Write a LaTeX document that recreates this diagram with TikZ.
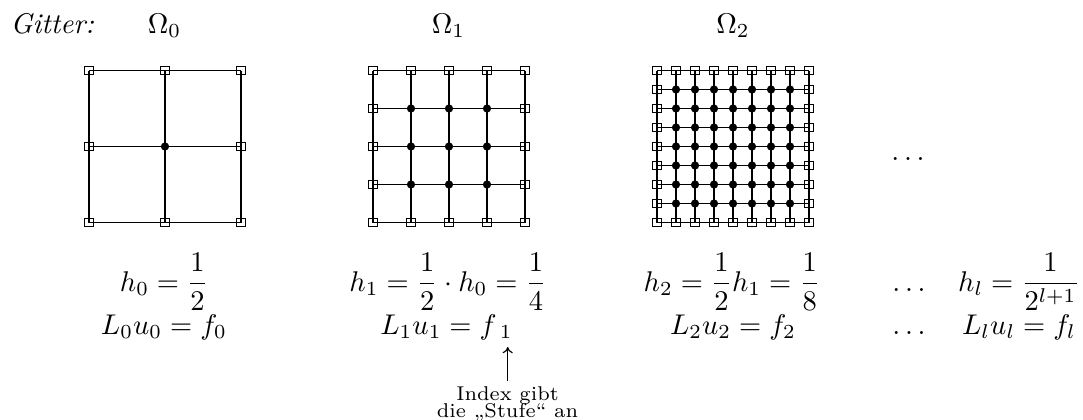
\documentclass[tikz,border=0pt]{standalone}
\usepackage{amsmath}
\usetikzlibrary{arrows.meta}
\tikzset{
  bnd/.style={draw, rectangle, minimum size=3pt, inner sep=0pt, line width=0.4pt},
  inn/.style={fill, circle, minimum size=2.9pt, inner sep=0pt},
  gline/.style={line width=0.4pt},
  lbl/.style={anchor=base, inner sep=0pt},
  note/.style={font=\scriptsize, anchor=base, inner sep=0pt},
  pointer/.style={line width=0.4pt, -{To[length=2.2pt,width=3.6pt]}}
}
\begin{document}
\begin{tikzpicture}[x=0.3509pt,y=-0.3509pt]
\useasboundingbox (0,0) rectangle (1083,419);
% labels on top
\node[lbl, anchor=base west] (gitter) at (10,33) {\textit{Gitter:}};
\node[lbl] (om0) at (164.5,33) {$\Omega_0$};
\node[lbl] (om1) at (448.5,33) {$\Omega_1$};
\node[lbl] (om2) at (733,33) {$\Omega_2$};
% grids
\foreach \g/\n/\L in {0/2/89, 1/4/373, 2/8/657} {
  \pgfmathsetmacro\hh{152/\n}
  \foreach \i in {0,...,\n} {
    \foreach \j in {0,...,\n} {
      \pgfmathtruncatemacro\isb{or(or(\i==0,\i==\n),or(\j==0,\j==\n))}
      \ifnum\isb=1
        \node[bnd] (g\g-\i-\j) at (\L+\i*\hh, 70.5+\j*\hh) {};
      \else
        \node[inn] (g\g-\i-\j) at (\L+\i*\hh, 70.5+\j*\hh) {};
      \fi
    }
  }
  \foreach \k in {0,...,\n} {
    \draw[gline] (g\g-\k-0.center) -- (g\g-\k-\n.center);
    \draw[gline] (g\g-0-\k.center) -- (g\g-\n-\k.center);
  }
}
\node[lbl] (gdots) at (908,160) {$\ldots$};
% formulas, row 1
\node[lbl] (h0) at (164,291) {$\displaystyle h_0=\frac{1}{2}$};
\node[lbl] (h1) at (448,291) {$\displaystyle h_1=\frac{1}{2}\cdot h_0=\frac{1}{4}$};
\node[lbl] (h2) at (732,291) {$\displaystyle h_2=\frac{1}{2}h_1=\frac{1}{8}$};
\node[lbl] (hdots) at (909,291) {$\ldots$};
\node[lbl] (hl) at (1019,291) {$\displaystyle h_l=\frac{1}{2^{l+1}}$};
% formulas, row 2
\node[lbl] (e0) at (164,334) {$L_0u_0=f_0$};
\node[lbl] (e1) at (446.5,334) {$L_1u_1=f_{\;1}$};
\node[lbl] (e2) at (733,334) {$L_2u_2=f_2$};
\node[lbl] (edots) at (909,334) {$\ldots$};
\node[lbl] (el) at (1019,334) {$L_lu_l=f_l$};
% note
\coordinate (sub) at (507.7,347);
\node[note] (idx) at (507.5,400.5) {\begin{tabular}[t]{@{}c@{}}Index gibt\\[-2.1pt]die „Stufe“ an\end{tabular}};
\draw[pointer] ([yshift=1.0pt]idx.north -| sub) -- (sub);
\end{tikzpicture}
\end{document}
